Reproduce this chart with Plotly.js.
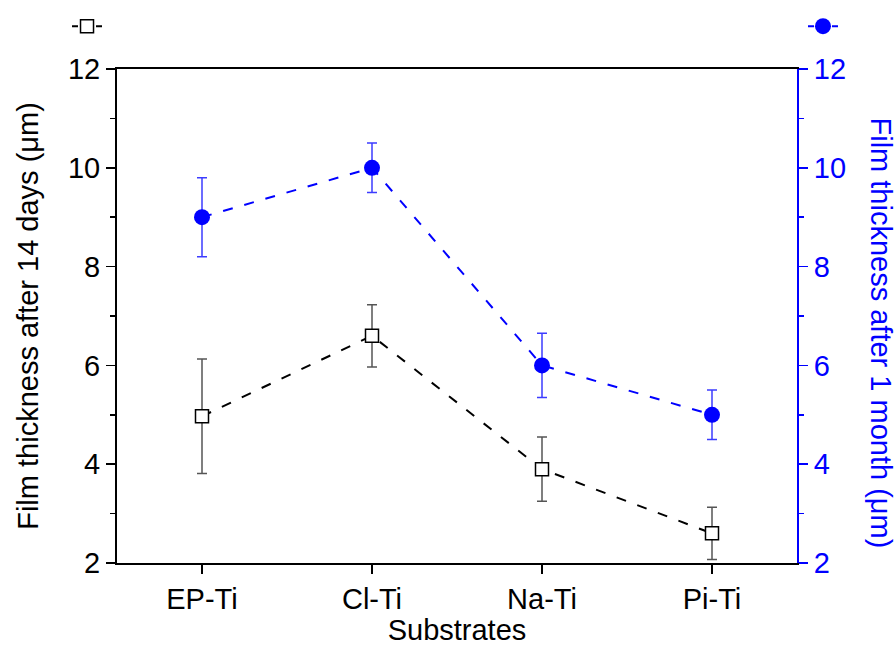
<!DOCTYPE html>
<html>
<head>
<meta charset="utf-8">
<script src="https://cdn.plot.ly/plotly-3.0.1.min.js"></script>
<style>html,body{margin:0;padding:0;background:#fff;}#chart{width:896px;height:646px;}</style>
</head>
<body>
<div id="chart"></div>
<script>
const categories = ['EP-Ti', 'Cl-Ti', 'Na-Ti', 'Pi-Ti'];
const days14 = [4.97, 6.6, 3.9, 2.6];
const days14Err = [1.16, 0.63, 0.65, 0.53];
const month1 = [9.0, 10.0, 6.0, 5.0];
const month1Err = [0.8, 0.5, 0.65, 0.5];
const yTickVals = [2, 4, 6, 8, 10, 12];

const FONT = 'Liberation Sans, Arial, sans-serif';
const BLUE = '#0000ff';
const FS = 29;

const squareMarker = {symbol: 'square', size: 13, color: '#fff', line: {color: '#000', width: 1.5}};
const circleMarker = {symbol: 'circle', size: 16, color: BLUE};

const traces = [
  {
    x: categories, y: days14, type: 'scatter', mode: 'lines+markers',
    showlegend: false,
    line: {color: '#000', width: 2, dash: '10px,12px'},
    marker: squareMarker,
    error_y: {type: 'data', array: days14Err, visible: true, color: '#555', thickness: 1.5, width: 5},
    yaxis: 'y'
  },
  {
    x: categories, y: month1, type: 'scatter', mode: 'lines+markers',
    showlegend: false,
    line: {color: BLUE, width: 2, dash: '10px,12px'},
    marker: circleMarker,
    error_y: {type: 'data', array: month1Err, visible: true, color: '#3c3cff', thickness: 1.5, width: 5},
    yaxis: 'y2'
  },
  // legend-only entries (no data drawn)
  {
    x: [null], y: [null], type: 'scatter', mode: 'lines+markers', name: ' ',
    legend: 'legend', showlegend: true,
    line: {color: '#000', width: 2, dash: '6px,18px,6px'}, marker: squareMarker, yaxis: 'y'
  },
  {
    x: [null], y: [null], type: 'scatter', mode: 'lines+markers', name: ' ',
    legend: 'legend2', showlegend: true,
    line: {color: BLUE, width: 2, dash: '6px,18px,6px'}, marker: circleMarker, yaxis: 'y2'
  }
];

const layout = {
  width: 896, height: 646,
  margin: {l: 117, r: 99, t: 67, b: 83},
  paper_bgcolor: '#fff', plot_bgcolor: '#fff',
  font: {family: FONT, size: FS, color: '#000'},
  showlegend: true,
  legend: {x: -0.0735, y: 1.0867, xanchor: 'left', yanchor: 'middle', bgcolor: 'rgba(0,0,0,0)', font: {size: 2}},
  legend2: {x: 1.0088, y: 1.0867, xanchor: 'left', yanchor: 'middle', bgcolor: 'rgba(0,0,0,0)', font: {size: 2}},
  xaxis: {
    type: 'category', range: [-0.5, 3.5], automargin: false,
    showline: true, linecolor: '#000', linewidth: 2, mirror: true,
    ticks: 'outside', ticklen: 9, tickwidth: 1.5, tickcolor: '#000',
    showgrid: false, zeroline: false,
    tickfont: {size: FS, color: '#000'},
    title: {text: 'Substrates', font: {size: FS, color: '#000'}, standoff: 18}
  },
  yaxis: {
    range: [2, 12], tickvals: yTickVals, automargin: false,
    showline: true, linecolor: '#000', linewidth: 2, mirror: false,
    ticks: 'outside', ticklen: 9, tickwidth: 1.5, tickcolor: '#000',
    minor: {ticks: 'outside', ticklen: 5, tickwidth: 1.5, tickcolor: '#000', dtick: 1, showgrid: false},
    showgrid: false, zeroline: false,
    tickfont: {size: FS, color: '#000'},
    title: {text: 'Film thickness after 14 days (μm)', font: {size: FS, color: '#000'}, standoff: 21}
  },
  yaxis2: {
    range: [2, 12], tickvals: yTickVals, overlaying: 'y', side: 'right', automargin: false,
    showline: true, linecolor: BLUE, linewidth: 2,
    ticks: 'outside', ticklen: 9, tickwidth: 1.5, tickcolor: BLUE,
    minor: {ticks: 'outside', ticklen: 5, tickwidth: 1.5, tickcolor: BLUE, dtick: 1, showgrid: false},
    showgrid: false, zeroline: false,
    tickfont: {size: FS, color: BLUE}
  },
  annotations: [{
    text: 'Film thickness after 1 month (μm)', textangle: 90,
    xref: 'paper', yref: 'paper', x: 1.124, y: 0.466,
    xanchor: 'center', yanchor: 'middle', showarrow: false,
    font: {size: FS, color: BLUE, family: FONT}
  }]
};

Plotly.newPlot('chart', traces, layout, {displayModeBar: false, staticPlot: true});
</script>
</body>
</html>
